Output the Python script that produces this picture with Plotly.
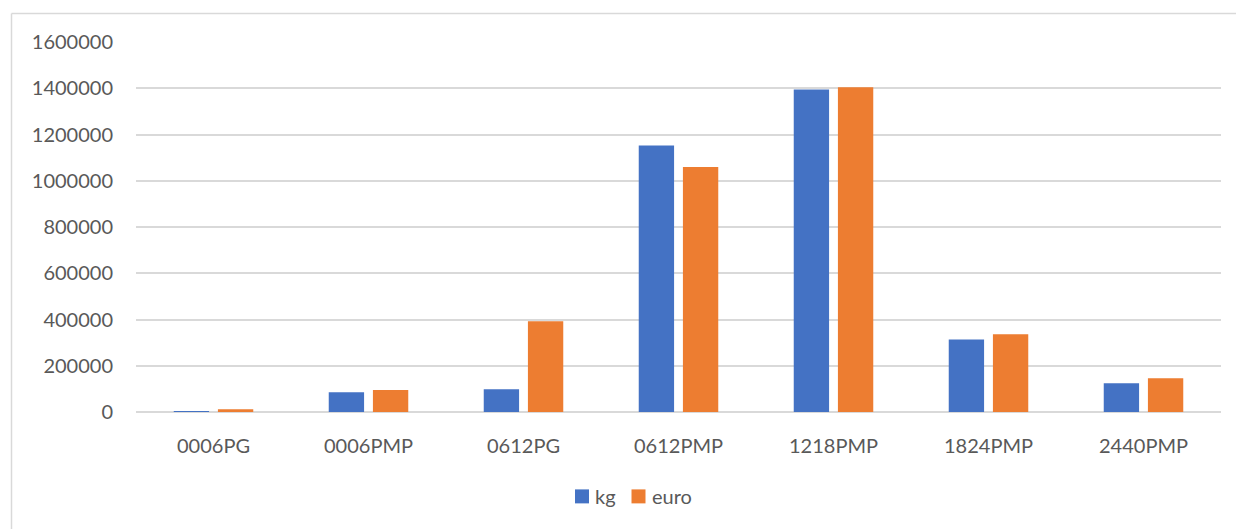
import plotly.graph_objects as go

# Product codes and the two measured totals per code
categories = ["0006PG", "0006PMP", "0612PG", "0612PMP", "1218PMP", "1824PMP", "2440PMP"]
kg_values = [1500, 85000, 98000, 1152000, 1395000, 314000, 124000]
euro_values = [12000, 95000, 392000, 1059000, 1404000, 336000, 146000]
y_ticks = [0, 200000, 400000, 600000, 800000, 1000000, 1200000, 1400000, 1600000]
series_names = ["kg", "euro"]
series_colors = ["#4472C4", "#ED7D31"]

W, H = 1236, 529
L, R, T, B = 136, 15, 42, 116.5
pw, ph = W - L - R, H - T - B

text_color = "#595959"
grid_color = "#d9d9d9"
font_family = "Lato, 'Open Sans', sans-serif"
fsize = 20

fig = go.Figure()
for name, vals, col in zip(series_names, [kg_values, euro_values], series_colors):
    fig.add_trace(go.Bar(name=name, x=categories, y=vals, marker_color=col,
                         marker_line_width=0, showlegend=False))


def px_x(p):
    return (p - L) / pw


def px_y(p):
    return (H - B - p) / ph


# outer chart frame (left and top edges)
fig.add_shape(type="line", xref="paper", yref="paper",
              x0=px_x(11.5), x1=px_x(1240), y0=px_y(13.5), y1=px_y(13.5),
              line=dict(color=grid_color, width=1.5))
fig.add_shape(type="line", xref="paper", yref="paper",
              x0=px_x(11.5), x1=px_x(11.5), y0=px_y(13.5), y1=px_y(535),
              line=dict(color=grid_color, width=1.5))

# compact legend below the plot: colour swatch followed by series name
legend_swatch_x = [575, 631.5]
for name, col, sx in zip(series_names, series_colors, legend_swatch_x):
    fig.add_shape(type="rect", xref="paper", yref="paper",
                  x0=px_x(sx), x1=px_x(sx + 14), y0=px_y(504), y1=px_y(490),
                  fillcolor=col, line_width=0)
    fig.add_annotation(xref="paper", yref="paper", x=px_x(sx + 18), y=px_y(497),
                       xanchor="left", yanchor="middle", showarrow=False, text=name,
                       font=dict(family=font_family, size=fsize, color=text_color))

fig.update_layout(
    width=W, height=H,
    margin=dict(l=L, r=R, t=T, b=B, pad=0),
    paper_bgcolor="white", plot_bgcolor="white",
    barmode="group", bargap=0.43, bargroupgap=0.2,
    font=dict(family=font_family, size=fsize, color=text_color),
    showlegend=False,
    xaxis=dict(showgrid=False, showline=False, ticks="", zeroline=False,
               ticklabelstandoff=20, tickfont=dict(size=fsize, color=text_color)),
    yaxis=dict(range=[0, 1600000], tickvals=y_ticks, ticktext=[str(v) for v in y_ticks],
               showgrid=True, gridcolor=grid_color, gridwidth=1.5,
               zeroline=True, zerolinecolor=grid_color, zerolinewidth=1.5,
               showline=False, ticks="", ticklabelstandoff=22,
               tickfont=dict(size=fsize, color=text_color)),
)

fig.write_html("out.html")
